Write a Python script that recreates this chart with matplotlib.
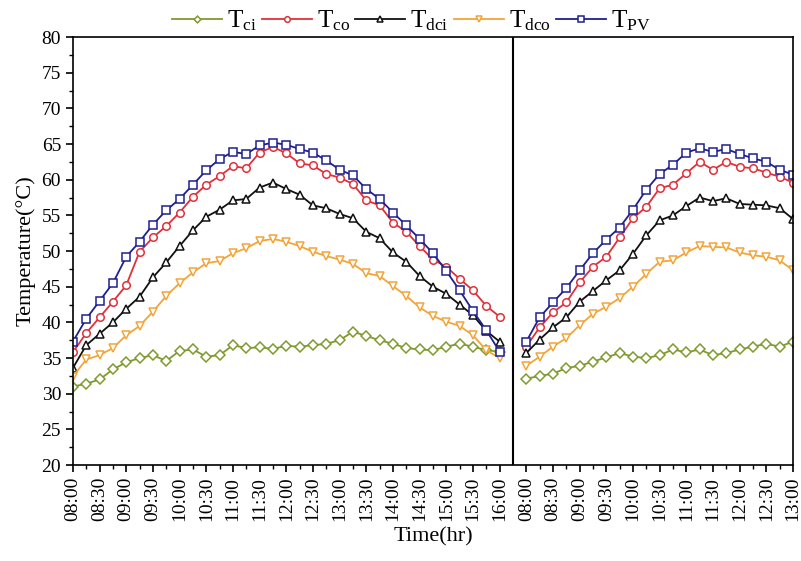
import matplotlib.pyplot as plt
import numpy as np

plt.rcParams['font.family'] = ['Liberation Serif', 'DejaVu Serif']
plt.rcParams['mathtext.fontset'] = 'custom'
plt.rcParams['mathtext.rm'] = 'Liberation Serif'

# day 1: 08:00-16:00, day 2: 08:00-13:00, 15 min steps
day1_labels = ["08:00", "08:30", "09:00", "09:30", "10:00", "10:30", "11:00", "11:30", "12:00",
               "12:30", "13:00", "13:30", "14:00", "14:30", "15:00", "15:30", "16:00"]
day2_labels = ["08:00", "08:30", "09:00", "09:30", "10:00", "10:30", "11:00", "11:30", "12:00",
               "12:30", "13:00"]

t_ci_1 = [31.0, 31.4, 32.0, 33.4, 34.4, 35.0, 35.4, 34.6, 36.0, 36.2, 35.2, 35.4, 36.8, 36.4, 36.5, 36.3,
          36.7, 36.6, 36.8, 37.0, 37.5, 38.7, 38.1, 37.5, 37.0, 36.4, 36.2, 36.1, 36.6, 37.0, 36.6, 36.1, 35.9]
t_co_1 = [35.8, 38.5, 40.7, 42.9, 45.2, 49.9, 51.9, 53.5, 55.4, 57.6, 59.3, 60.5, 61.9, 61.6, 63.8, 64.6,
          63.7, 62.3, 62.0, 60.8, 60.3, 59.4, 57.1, 56.4, 54.0, 52.7, 50.7, 48.8, 47.8, 46.1, 44.5, 42.3, 40.8]
t_dci_1 = [33.6, 36.8, 38.4, 40.0, 41.9, 43.6, 46.3, 48.4, 50.7, 52.9, 54.8, 55.8, 57.1, 57.3, 58.9, 59.6,
           58.7, 57.9, 56.4, 56.0, 55.2, 54.6, 52.7, 51.8, 49.8, 48.5, 46.5, 45.0, 44.0, 42.5, 41.0, 38.8, 37.3]
t_dco_1 = [32.4, 34.8, 35.4, 36.4, 38.2, 39.5, 41.5, 43.7, 45.5, 47.0, 48.3, 48.6, 49.7, 50.4, 51.4, 51.7,
           51.3, 50.7, 49.9, 49.3, 48.8, 48.2, 46.9, 46.5, 45.1, 43.7, 42.1, 40.9, 40.1, 39.5, 38.2, 36.1, 35.0]
t_pv_1 = [37.3, 40.5, 43.0, 45.5, 49.2, 51.3, 53.7, 55.7, 57.3, 59.3, 61.3, 62.9, 63.9, 63.6, 64.8, 65.2,
          64.9, 64.3, 63.8, 62.7, 61.4, 60.6, 58.7, 57.3, 55.4, 53.6, 51.7, 49.7, 47.2, 44.5, 41.6, 38.9, 35.9]

t_ci_2 = [32.1, 32.5, 32.8, 33.6, 33.9, 34.5, 35.1, 35.7, 35.2, 35.0, 35.4, 36.2, 35.8, 36.2, 35.4, 35.7,
          36.2, 36.6, 37.0, 36.6, 37.3]
t_co_2 = [36.6, 39.3, 41.4, 42.8, 45.6, 47.8, 49.2, 51.9, 54.6, 56.2, 58.8, 59.3, 60.9, 62.5, 61.4, 62.5,
          61.8, 61.6, 61.0, 60.4, 59.6]
t_dci_2 = [35.7, 37.6, 39.3, 40.7, 42.9, 44.4, 45.9, 47.3, 49.6, 52.2, 54.3, 55.0, 56.3, 57.5, 57.0, 57.4,
           56.6, 56.5, 56.4, 56.0, 54.5]
t_dco_2 = [33.9, 35.2, 36.6, 37.8, 39.6, 41.2, 42.2, 43.4, 45.0, 46.8, 48.5, 48.7, 49.8, 50.7, 50.6, 50.5,
           49.8, 49.4, 49.2, 48.7, 47.3]
t_pv_2 = [37.3, 40.7, 42.8, 44.8, 47.3, 49.7, 51.6, 53.3, 55.8, 58.6, 60.8, 62.1, 63.8, 64.4, 63.9, 64.3,
          63.6, 63.0, 62.5, 61.4, 60.7]

n1 = len(t_ci_1)
x1 = np.arange(n1)
x2 = np.arange(len(t_ci_2)) + n1 + 1
split = n1

series = [
    (r'$\mathregular{T_{ci}}$', t_ci_1, t_ci_2, '#7f9a2e', 'D'),
    (r'$\mathregular{T_{co}}$', t_co_1, t_co_2, '#e0303a', 'o'),
    (r'$\mathregular{T_{dci}}$', t_dci_1, t_dci_2, '#111111', '^'),
    (r'$\mathregular{T_{dco}}$', t_dco_1, t_dco_2, '#f2a53a', 'v'),
    (r'$\mathregular{T_{PV}}$', t_pv_1, t_pv_2, '#1f1f8f', 's'),
]

fig = plt.figure(figsize=(8.01, 5.61), dpi=100)
ax = fig.add_axes([0.091, 0.171, 0.899, 0.763])

for label, d1, d2, color, m in series:
    ms = 4.6 if m == 'D' else 5.4
    ax.plot(x1, d1, color=color, marker=m, mfc='white', mec=color, ms=ms, mew=1.1, lw=1.3, label=label)
    ax.plot(x2, d2, color=color, marker=m, mfc='white', mec=color, ms=ms, mew=1.1, lw=1.3)

ax.axvline(split, color='black', lw=1.5)

ax.set_xlim(0, x2[-1])
ax.set_ylim(20, 80)
ax.set_yticks(np.arange(20, 81, 5))
ax.set_yticks(np.arange(20, 81, 2.5), minor=True)
ax.set_xticks(list(x1[::2]) + list(x2[::2]))
ax.set_xticklabels(day1_labels + day2_labels, rotation=90)
ax.set_xticks(list(x1[1::2]) + list(x2[1::2]), minor=True)
ax.tick_params(axis='both', which='major', direction='out', length=5, width=1.2, labelsize=14)
ax.tick_params(axis='both', which='minor', direction='out', length=3, width=1.0)
for sp in ax.spines.values():
    sp.set_linewidth(1.2)

ax.set_xlabel('Time(hr)', fontsize=16)
ax.set_ylabel('Temperature(°C)', fontsize=16)

ax.legend(loc='lower center', bbox_to_anchor=(0.47, 0.985), ncol=5, frameon=False,
          fontsize=18, markerscale=0.75, handlelength=2.0, handletextpad=0.2,
          columnspacing=0.2, borderaxespad=0)

fig.savefig('out.png', dpi=100)
